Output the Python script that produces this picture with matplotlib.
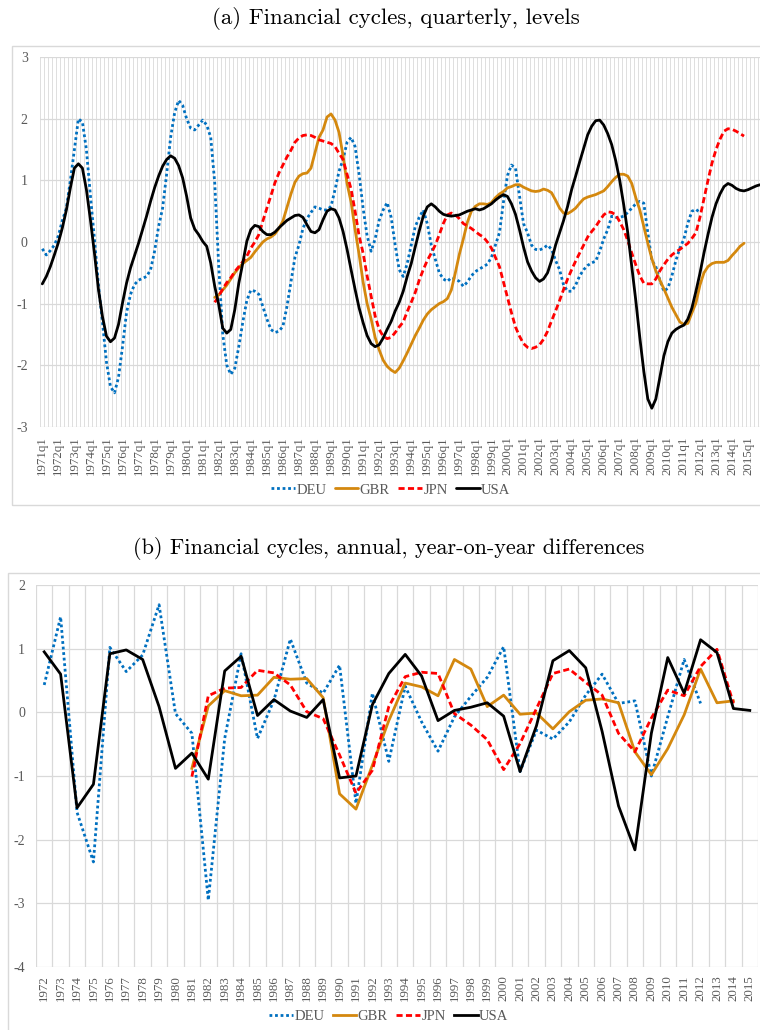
import matplotlib.pyplot as plt
import numpy as np
from matplotlib.patches import Rectangle

plt.rcParams['font.family'] = ['Liberation Serif', 'DejaVu Serif']

# ---------------- Datos (a): trimestrales, niveles ----------------
aniosTrim = list(range(1971, 2016))
trimestres = [f"{a}q{q}" for a in aniosTrim for q in range(1, 5)]

usaTrim = [
    -0.68, -0.56, -0.40, -0.21,  -0.01, 0.23, 0.52, 0.88,  1.20, 1.27, 1.20, 0.85,
    0.36, -0.18, -0.77, -1.21,  -1.53, -1.62, -1.56, -1.34,  -0.99, -0.67, -0.42, -0.22,
    -0.02, 0.20, 0.42, 0.66,  0.88, 1.07, 1.23, 1.34,  1.40, 1.36, 1.24, 1.04,
    0.74, 0.39, 0.21, 0.12,  0.01, -0.07, -0.34, -0.72,  -1.02, -1.40, -1.48, -1.42,
    -1.10, -0.67, -0.34, 0.01,  0.20, 0.27, 0.25, 0.17,  0.12, 0.12, 0.16, 0.23,
    0.29, 0.35, 0.39, 0.43,  0.44, 0.40, 0.28, 0.17,  0.15, 0.20, 0.36, 0.50,
    0.54, 0.52, 0.39, 0.17,  -0.12, -0.45, -0.77, -1.07,  -1.31, -1.52, -1.65, -1.70,
    -1.67, -1.56, -1.42, -1.29,  -1.12, -0.98, -0.80, -0.56,  -0.35, -0.08, 0.18, 0.42,
    0.57, 0.62, 0.57, 0.50,  0.45, 0.43, 0.42, 0.43,  0.44, 0.47, 0.50, 0.52,
    0.54, 0.52, 0.54, 0.58,  0.62, 0.68, 0.73, 0.77,  0.74, 0.62, 0.45, 0.20,
    -0.08, -0.32, -0.47, -0.58,  -0.64, -0.60, -0.50, -0.30,  -0.05, 0.15, 0.35, 0.58,
    0.85, 1.07, 1.30, 1.52,  1.74, 1.88, 1.97, 1.98,  1.90, 1.76, 1.58, 1.32,
    1.00, 0.60, 0.15, -0.40,  -0.95, -1.55, -2.10, -2.55,  -2.70, -2.55, -2.20, -1.85,
    -1.62, -1.48, -1.42, -1.38,  -1.35, -1.25, -1.07, -0.80,  -0.51, -0.18, 0.12, 0.40,
    0.62, 0.78, 0.90, 0.95,  0.92, 0.87, 0.84, 0.83,  0.85, 0.88, 0.91, 0.93,
]
usaTrimIni = "1971q1"

deuTrim = [
    -0.11, -0.21, -0.14, -0.05,  0.10, 0.35, 0.55, 1.00,  1.50, 2.00, 1.95, 1.50,
    0.75, 0.05, -0.70, -1.30,  -1.95, -2.35, -2.45, -2.20,  -1.70, -1.15, -0.85, -0.69,
    -0.62, -0.59, -0.56, -0.45,  -0.15, 0.25, 0.55, 1.10,  1.70, 2.10, 2.30, 2.22,
    2.00, 1.85, 1.82, 1.90,  1.98, 1.90, 1.70, 0.96,  -0.40, -1.50, -2.00, -2.15,
    -2.05, -1.70, -1.30, -0.95,  -0.78, -0.80, -0.85, -1.05,  -1.25, -1.42, -1.47, -1.45,
    -1.37, -1.05, -0.65, -0.25,  -0.05, 0.22, 0.38, 0.48,  0.57, 0.55, 0.52, 0.52,
    0.58, 0.85, 1.15, 1.34,  1.62, 1.70, 1.55, 1.10,  0.55, 0.10, -0.15, 0.05,
    0.35, 0.52, 0.64, 0.40,  -0.05, -0.45, -0.56, -0.35,  -0.05, 0.25, 0.40, 0.52,
    0.30, -0.05, -0.28, -0.50,  -0.60, -0.64, -0.58, -0.60,  -0.64, -0.72, -0.65, -0.55,
    -0.48, -0.44, -0.40, -0.36,  -0.25, -0.05, 0.15, 0.65,  1.08, 1.25, 1.20, 0.75,
    0.30, 0.15, -0.05, -0.12,  -0.13, -0.10, -0.05, -0.12,  -0.30, -0.45, -0.70, -0.80,
    -0.80, -0.70, -0.55, -0.45,  -0.38, -0.34, -0.31, -0.15,  0.05, 0.20, 0.42, 0.40,
    0.40, 0.42, 0.48, 0.55,  0.62, 0.66, 0.63, 0.15,  -0.30, -0.40, -0.62, -0.80,
    -0.75, -0.55, -0.30, -0.10,  0.05, 0.31, 0.50, 0.53,  0.48,
]
deuTrimIni = "1971q1"

gbrTrim = [
    -0.90,
    -0.86, -0.78, -0.70, -0.60,  -0.50, -0.42, -0.35, -0.30,  -0.25, -0.16, -0.08, 0.00,
    0.05, 0.08, 0.13, 0.22,  0.34, 0.56, 0.78, 0.97,  1.07, 1.11, 1.12, 1.20,
    1.45, 1.70, 1.82, 2.03,  2.08, 1.98, 1.78, 1.40,  0.95, 0.65, 0.20, -0.20,
    -0.65, -1.00, -1.25, -1.55,  -1.75, -1.92, -2.02, -2.08,  -2.12, -2.05, -1.93, -1.80,
    -1.66, -1.52, -1.40, -1.27,  -1.17, -1.10, -1.05, -1.00,  -0.97, -0.92, -0.78, -0.50,
    -0.20, 0.05, 0.32, 0.50,  0.58, 0.62, 0.62, 0.61,  0.64, 0.72, 0.78, 0.82,
    0.88, 0.90, 0.93, 0.93,  0.89, 0.86, 0.83, 0.82,  0.83, 0.86, 0.84, 0.80,
    0.68, 0.55, 0.47, 0.46,  0.50, 0.55, 0.63, 0.70,  0.73, 0.75, 0.77, 0.80,
    0.83, 0.90, 0.98, 1.05,  1.10, 1.10, 1.07, 0.95,  0.72, 0.52, 0.25, -0.02,
    -0.27, -0.47, -0.62, -0.76,  -0.91, -1.06, -1.18, -1.30,  -1.34, -1.32, -1.15, -0.99,
    -0.70, -0.50, -0.40, -0.35,  -0.33, -0.33, -0.33, -0.30,  -0.22, -0.15, -0.07, -0.02,
]
gbrTrimIni = "1981q4"

jpnTrim = [
    -0.98,
    -0.88, -0.76, -0.66, -0.58,  -0.48, -0.40, -0.32, -0.23,  -0.10, 0.00, 0.12, 0.34,
    0.55, 0.75, 0.96, 1.12,  1.25, 1.38, 1.49, 1.62,  1.69, 1.73, 1.74, 1.73,
    1.70, 1.66, 1.64, 1.62,  1.60, 1.55, 1.44, 1.34,  1.10, 0.86, 0.50, 0.10,
    -0.18, -0.55, -0.88, -1.20,  -1.42, -1.53, -1.57, -1.55,  -1.47, -1.38, -1.30, -1.13,
    -0.98, -0.82, -0.62, -0.45,  -0.30, -0.18, -0.05, 0.12,  0.30, 0.44, 0.47, 0.44,
    0.38, 0.30, 0.26, 0.22,  0.17, 0.12, 0.08, 0.00,  -0.10, -0.25, -0.40, -0.65,
    -0.90, -1.15, -1.38, -1.53,  -1.65, -1.71, -1.73, -1.71,  -1.67, -1.58, -1.45, -1.28,
    -1.12, -0.95, -0.77, -0.60,  -0.45, -0.31, -0.18, -0.05,  0.08, 0.17, 0.25, 0.35,
    0.44, 0.49, 0.48, 0.44,  0.33, 0.20, 0.02, -0.18,  -0.37, -0.55, -0.67, -0.68,
    -0.68, -0.60, -0.47, -0.37,  -0.28, -0.21, -0.16, -0.12,  -0.07, -0.02, 0.06, 0.15,
    0.40, 0.70, 1.00, 1.28,  1.50, 1.67, 1.80, 1.84,  1.83, 1.80, 1.76, 1.72,
]
jpnTrimIni = "1981q4"

# ---------------- Datos (b): anuales, diferencias ----------------
anios = list(range(1972, 2016))

usaAnual = [0.95, 0.60, -1.50, -1.13, 0.92, 0.98, 0.83, 0.09, -0.88, -0.64, -1.05, 0.65, 0.88,
            -0.05, 0.20, 0.02, -0.08, 0.20, -1.03, -1.00, 0.12, 0.61, 0.91, 0.57, -0.13, 0.03, 0.08, 0.15,
            -0.06, -0.93, -0.21, 0.81, 0.97, 0.70, -0.30, -1.47, -2.16, -0.33, 0.86, 0.30, 1.14, 0.94,
            0.06, 0.03]
usaAnualIni = 1972

deuAnual = [0.43, 1.50, -1.57, -2.35, 1.02, 0.64, 0.90, 1.69, -0.02, -0.33, -2.95, -0.41, 0.92,
            -0.41, 0.19, 1.15, 0.46, 0.30, 0.74, -1.43, 0.30, -0.77, 0.41, -0.15, -0.61, -0.07, 0.25, 0.55,
            1.03, -0.93, -0.28, -0.42, -0.15, 0.27, 0.60, 0.14, 0.18, -1.00, -0.07, 0.83, 0.14]
deuAnualIni = 1972

gbrAnual = [-0.88, 0.10, 0.34, 0.26, 0.27, 0.55, 0.52, 0.53, 0.23, -1.28,
            -1.52, -0.83, -0.13, 0.46, 0.40, 0.26, 0.83, 0.68, 0.09, 0.27,
            -0.03, -0.01, -0.26, 0.01, 0.19, 0.21, 0.15, -0.62, -0.98, -0.57,
            -0.04, 0.68, 0.15, 0.18]
gbrAnualIni = 1981

jpnAnual = [-1.01, 0.26, 0.38, 0.39, 0.66, 0.62, 0.43, 0.01, -0.10, -0.67,
            -1.27, -0.91, 0.09, 0.56, 0.63, 0.61, -0.02, -0.20, -0.43, -0.90,
            -0.49, 0.06, 0.61, 0.68, 0.47, 0.27, -0.33, -0.62, -0.09, 0.35,
            0.26, 0.72, 0.99, 0.14]
jpnAnualIni = 1981

# estilos de cada pais
estilos = {
    "DEU": dict(color='#0070C0', linestyle=(0, (1, 1)), lw=2.0),
    "GBR": dict(color='#D4880E', linestyle='-', lw=2.0),
    "JPN": dict(color='#FF0000', linestyle=(0, (2.2, 1.2)), lw=2.0),
    "USA": dict(color='black', linestyle='-', lw=2.0),
}
gris = '#595959'
grilla = '#D9D9D9'

fig = plt.figure(figsize=(7.6, 10.3), dpi=100)

# marcos de cada grafico (estilo Excel)
fig.patches.append(Rectangle((12 / 760, 1 - 505 / 1030), 1.0, (505 - 46) / 1030,
                             transform=fig.transFigure, fill=False, ec=grilla, lw=1.0))
fig.patches.append(Rectangle((8 / 760, -0.01), 1.0, 1 - 573 / 1030 + 0.01,
                             transform=fig.transFigure, fill=False, ec=grilla, lw=1.0))

# ---------------- Panel (a) ----------------
ax1 = fig.add_axes([40.3 / 760, 1 - 426.7 / 1030, 721.8 / 760, 369.4 / 1030])
series1 = [("DEU", deuTrim, deuTrimIni), ("GBR", gbrTrim, gbrTrimIni),
           ("JPN", jpnTrim, jpnTrimIni), ("USA", usaTrim, usaTrimIni)]
for nombre, valores, ini in series1:
    x0 = trimestres.index(ini)
    xs = np.arange(x0, x0 + len(valores))
    ax1.plot(xs, valores, label=nombre, solid_capstyle='round', **estilos[nombre])

ax1.set_xlim(-0.5, len(trimestres) - 0.5)
ax1.set_ylim(-3, 3)
ax1.set_yticks(range(-3, 4))
ax1.set_yticklabels([str(v) for v in range(-3, 4)])
ax1.set_xticks(range(0, len(trimestres), 4))
ax1.set_xticklabels(trimestres[::4], rotation=90)
ax1.set_xticks(np.arange(-0.5, len(trimestres)), minor=True)
ax1.grid(which='minor', axis='x', color=grilla, lw=0.6)
ax1.grid(which='major', axis='y', color=grilla, lw=0.9)
ax1.tick_params(which='both', length=0)
ax1.tick_params(axis='y', pad=9, labelsize=10, labelcolor=gris)
ax1.tick_params(axis='x', pad=7, labelsize=9.3, labelcolor=gris)
ax1.set_axisbelow(True)
for s in ax1.spines.values():
    s.set_visible(False)

fig.text(396 / 760, 1 - 18 / 1030, "(a) Financial cycles, quarterly, levels",
         ha='center', va='center', fontsize=16.5, family='cmr10')

h1, l1 = ax1.get_legend_handles_labels()
fig.legend(h1, l1, loc='center', bbox_to_anchor=(391 / 760, 1 - 490 / 1030), ncol=4,
           frameon=False, fontsize=10.5, handlelength=1.6, handletextpad=0.1,
           columnspacing=0.6, labelcolor=gris)

# ---------------- Panel (b) ----------------
ax2 = fig.add_axes([36 / 760, 1 - 967 / 1030, 722 / 760, 382 / 1030])
series2 = [("DEU", deuAnual, deuAnualIni), ("GBR", gbrAnual, gbrAnualIni),
           ("JPN", jpnAnual, jpnAnualIni), ("USA", usaAnual, usaAnualIni)]
for nombre, valores, ini in series2:
    x0 = anios.index(ini)
    xs = np.arange(x0, x0 + len(valores))
    ax2.plot(xs, valores, label=nombre, **estilos[nombre])

ax2.set_xlim(-0.5, len(anios) - 0.5)
ax2.set_ylim(-4, 2)
ax2.set_yticks(range(-4, 3))
ax2.set_yticklabels([str(v) for v in range(-4, 3)])
ax2.set_xticks(range(len(anios)))
ax2.set_xticklabels([str(a) for a in anios], rotation=90)
ax2.set_xticks(np.arange(-0.5, len(anios)), minor=True)
ax2.grid(which='minor', axis='x', color=grilla, lw=0.9)
ax2.grid(which='major', axis='y', color=grilla, lw=0.9)
ax2.tick_params(which='both', length=0)
ax2.tick_params(axis='y', pad=8, labelsize=10, labelcolor=gris)
ax2.tick_params(axis='x', pad=6, labelsize=9.3, labelcolor=gris)
ax2.set_axisbelow(True)
for s in ax2.spines.values():
    s.set_visible(False)

fig.text(389 / 760, 1 - 548 / 1030, "(b) Financial cycles, annual, year-on-year differences",
         ha='center', va='center', fontsize=16, family='cmr10')

h2, l2 = ax2.get_legend_handles_labels()
fig.legend(h2, l2, loc='center', bbox_to_anchor=(389 / 760, 1 - 1016 / 1030), ncol=4,
           frameon=False, fontsize=10.5, handlelength=1.6, handletextpad=0.1,
           columnspacing=0.6, labelcolor=gris)

fig.savefig("out.png", dpi=100)
